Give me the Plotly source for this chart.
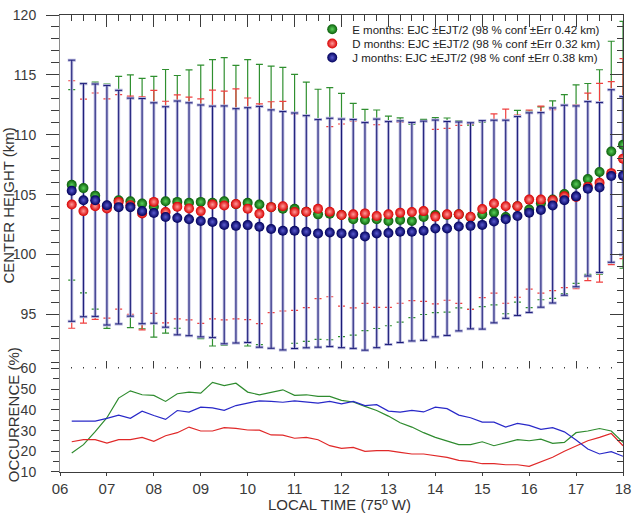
import plotly.graph_objects as go

# ---------------- data ----------------
hours = [6.25, 6.5, 6.75, 7.0, 7.25, 7.5, 7.75, 8.0, 8.25, 8.5, 8.75, 9.0,
         9.25, 9.5, 9.75, 10.0, 10.25, 10.5, 10.75, 11.0, 11.25, 11.5, 11.75, 12.0,
         12.25, 12.5, 12.75, 13.0, 13.25, 13.5, 13.75, 14.0, 14.25, 14.5, 14.75, 15.0,
         15.25, 15.5, 15.75, 16.0, 16.25, 16.5, 16.75, 17.0, 17.25, 17.5, 17.75, 18.0]

E_center = [105.82, 105.55, 104.92, 104.04, 104.54, 104.45, 104.26, 103.99, 104.45, 104.40, 104.32, 104.40,
            104.32, 104.45, 104.20, 104.32, 104.18, 103.96, 103.82, 103.82, 103.58, 103.36, 103.41, 103.30,
            102.95, 102.89, 102.95, 102.81, 102.89, 102.81, 103.14, 103.30, 103.30, 103.36, 103.11, 103.36,
            103.50, 103.13, 104.04, 103.77, 104.28, 104.59, 105.05, 105.88, 106.31, 106.90, 108.61, 109.16]
E_err = [7.95, 8.75, 9.47, 10.20, 10.33, 10.55, 10.45, 10.88, 11.00, 10.55, 11.10, 11.42,
         11.95, 12.00, 11.60, 11.95, 11.70, 11.77, 11.80, 11.22, 10.82, 10.44, 10.52, 10.15,
         9.68, 9.23, 9.12, 8.75, 8.52, 8.07, 8.14, 8.14, 8.10, 7.80, 7.69, 7.70,
         7.70, 8.07, 8.00, 8.20, 8.05, 8.24, 8.30, 8.29, 7.97, 8.53, 9.20, 10.30]

D_center = [104.18, 103.63, 104.04, 103.85, 104.40, 104.12, 103.44, 104.40, 103.55, 103.99, 103.85, 103.63,
            104.18, 104.10, 104.23, 103.82, 103.41, 103.96, 104.04, 103.55, 103.58, 103.82, 103.58, 103.30,
            103.36, 103.44, 103.22, 103.36, 103.50, 103.55, 103.63, 103.17, 103.36, 103.36, 103.16, 103.80,
            104.26, 104.04, 104.04, 104.59, 104.59, 104.54, 104.86, 104.81, 105.65, 106.00, 106.80, 108.01]
D_err = [10.33, 9.35, 9.45, 9.15, 8.95, 9.10, 9.72, 9.30, 9.25, 9.35, 9.30, 9.37,
         9.55, 9.55, 9.60, 9.25, 9.17, 8.80, 8.75, 8.20, 8.00, 7.50, 7.10, 7.60,
         7.80, 7.52, 7.62, 7.77, 7.56, 7.40, 7.53, 7.28, 7.17, 7.43, 7.74, 7.39,
         7.48, 8.10, 7.60, 7.48, 7.80, 7.55, 7.61, 7.66, 7.83, 8.30, 7.64, 8.35]

J_center = [105.33, 104.54, 104.54, 104.12, 103.96, 103.96, 103.63, 103.47, 103.14, 103.06, 102.95, 102.81,
            102.73, 102.48, 102.40, 102.46, 102.32, 102.13, 101.99, 101.99, 101.91, 101.77, 101.85, 101.77,
            101.72, 101.52, 101.77, 101.80, 101.91, 101.91, 101.99, 102.18, 102.18, 102.35, 102.40, 102.48,
            102.76, 102.95, 103.22, 103.50, 103.73, 104.10, 104.54, 104.86, 105.49, 105.60, 106.56, 106.59]
J_err = [10.90, 9.73, 9.70, 10.00, 9.75, 9.10, 9.40, 9.20, 9.20, 9.76, 9.72, 9.68,
         9.66, 9.93, 9.78, 9.80, 10.05, 9.95, 9.95, 9.83, 9.69, 9.50, 9.53, 9.54,
         9.55, 9.50, 9.54, 9.30, 9.25, 9.12, 9.15, 9.05, 8.93, 8.72, 8.60, 8.70,
         8.46, 8.27, 8.30, 8.33, 8.12, 8.14, 7.93, 7.55, 7.28, 7.09, 7.20, 6.60]

E_occ = [19.2, 23.2, 29.5, 36.2, 45.7, 49.2, 47.3, 47.0, 44.1, 47.8, 48.6, 48.1,
         53.3, 51.7, 52.9, 48.6, 47.3, 48.6, 49.7, 47.0, 47.3, 46.5, 46.5, 44.6,
         43.8, 41.7, 39.7, 37.0, 33.8, 31.7, 29.0, 26.7, 25.1, 23.2, 23.2, 24.6,
         22.7, 24.3, 25.6, 25.1, 25.9, 23.8, 24.3, 29.0, 29.8, 31.0, 29.8, 24.3]
D_occ = [24.6, 25.6, 25.6, 24.0, 25.6, 25.6, 26.7, 24.8, 27.5, 29.0, 31.7, 29.8,
         29.8, 31.4, 31.1, 30.3, 30.2, 27.9, 27.8, 26.3, 26.7, 25.6, 22.7, 21.4,
         21.9, 20.0, 20.3, 20.3, 19.5, 18.7, 18.7, 17.9, 17.1, 15.6, 15.1, 14.0,
         14.0, 13.5, 13.5, 12.7, 14.8, 17.1, 20.0, 22.7, 25.1, 26.7, 28.6, 22.7]
J_occ = [34.6, 34.6, 34.6, 35.9, 37.5, 35.9, 39.4, 37.3, 35.4, 39.7, 38.9, 41.3,
         41.0, 39.8, 42.1, 43.3, 44.4, 44.1, 43.7, 44.4, 43.8, 43.3, 44.1, 42.9,
         44.1, 42.1, 42.5, 39.4, 38.9, 39.8, 39.0, 41.3, 40.6, 37.5, 36.2, 34.1,
         34.1, 31.7, 33.5, 32.5, 30.6, 31.4, 29.4, 25.5, 21.1, 18.7, 19.8, 17.6]

names = ["E months: EJC \u00b1EJT/2 (98 % conf \u00b1Err 0.42 km)",
         "D months: EJC \u00b1EJT/2 (98 % conf \u00b1Err 0.32 km)",
         "J months: EJC \u00b1EJT/2 (98 % conf \u00b1Err 0.38 km)"]

hour_ticks = [6, 7, 8, 9, 10, 11, 12, 13, 14, 15, 16, 17, 18]
hour_labels = ["06", "07", "08", "09", "10", "11", "12", "13", "14", "15", "16", "17", "18"]
height_ticks = [95, 100, 105, 110, 115, 120]
occ_ticks = [10, 20, 30, 40, 50, 60]

# ---------------- figure ----------------
fig = go.Figure()
clear = "rgba(0,0,0,0)"

def err_trace(center, err, color, thick, capw):
    return go.Scatter(x=hours, y=center, mode="markers",
                      marker=dict(size=1, color=clear),
                      error_y=dict(type="data", array=err, visible=True, color=color,
                                   thickness=thick, width=capw),
                      showlegend=False, hoverinfo="skip", xaxis="x", yaxis="y")

fig.add_trace(err_trace(E_center, E_err, "#2f8f2f", 1.2, 3.5))
fig.add_trace(err_trace(D_center, D_err, "#f04040", 1.2, 3.5))
fig.add_trace(err_trace(J_center, J_err, "#b8b8dc", 3.0, 4))
fig.add_trace(err_trace(J_center, J_err, "#1a1a78", 1.0, 3.5))

marker_styles = [("#0a5e0a", "#5ad05a"), ("#d80000", "#ff9a9a"), ("#00005a", "#5a5ad0")]
centers = [E_center, D_center, J_center]
legends = ["legend", "legend2", "legend3"]
for c, (edge, mid), nm, lg in zip(centers, marker_styles, names, legends):
    fig.add_trace(go.Scatter(x=hours, y=c, mode="markers", name=nm, legend=lg,
                             marker=dict(size=10, color=edge, line=dict(width=0),
                                         gradient=dict(type="radial", color=mid)),
                             xaxis="x", yaxis="y"))

line_colors = ["#2e8b2e", "#e02828", "#2828c8"]
for occ, col in zip([E_occ, D_occ, J_occ], line_colors):
    fig.add_trace(go.Scatter(x=hours, y=occ, mode="lines", line=dict(color=col, width=1.2),
                             showlegend=False, hoverinfo="skip", xaxis="x2", yaxis="y2"))

# dummy empty traces to make overlay axes exist
fig.add_trace(go.Scatter(x=[], y=[], xaxis="x3", yaxis="y", showlegend=False))
fig.add_trace(go.Scatter(x=[], y=[], xaxis="x", yaxis="y3", showlegend=False))
fig.add_trace(go.Scatter(x=[], y=[], xaxis="x2", yaxis="y4", showlegend=False))

tickfont_y = dict(family="Arial, Liberation Sans, sans-serif", size=14, color="#3a3a3a")
tickfont_x = dict(family="Arial, Liberation Sans, sans-serif", size=15, color="#3a3a3a")
axc = "#3c3c3c"

top_lo = 0.2157
bot_hi = 0.2265

fig.update_layout(
    width=638, height=515, autosize=False,
    margin=dict(l=60, r=7, t=7, b=43),
    paper_bgcolor="white", plot_bgcolor="white",
    xaxis=dict(domain=[0, 1], range=[6, 18], anchor="y", side="bottom",
               showline=True, linecolor=axc, linewidth=1, mirror="ticks",
               tickmode="array", tickvals=hour_ticks, ticks="inside", ticklen=12,
               tickcolor=axc, tickwidth=1,
               minor=dict(ticks="inside", ticklen=6, dtick=0.25, tick0=6, tickcolor=axc),
               showticklabels=False, showgrid=False, zeroline=False),
    xaxis3=dict(overlaying="x", range=[6, 18], anchor="y", side="bottom",
                showline=False, tickmode="array", tickvals=hour_ticks, ticks="outside",
                ticklen=13, tickcolor=axc,
                minor=dict(ticks="outside", ticklen=6, dtick=0.25, tick0=6, tickcolor=axc),
                showticklabels=False, showgrid=False, zeroline=False),
    yaxis=dict(domain=[top_lo, 1], range=[90.08, 120], anchor="x",
               showline=True, linecolor="#8a8a8a", linewidth=1,
               tickmode="array", tickvals=height_ticks, ticks="outside", ticklen=13,
               tickcolor=axc, ticklabelstandoff=7,
               minor=dict(ticks="outside", ticklen=8, dtick=1, tick0=90, tickcolor=axc),
               tickfont=tickfont_y, showgrid=False, zeroline=False),
    yaxis3=dict(overlaying="y", side="right", anchor="x", range=[90.08, 120],
                showline=True, linecolor=axc, tickmode="array", tickvals=height_ticks,
                ticks="inside", ticklen=13, tickcolor=axc,
                minor=dict(ticks="inside", ticklen=6, dtick=1, tick0=90, tickcolor=axc),
                showticklabels=False, showgrid=False, zeroline=False),
    xaxis2=dict(domain=[0, 1], range=[6, 18], anchor="y2", side="bottom",
                showline=True, linecolor=axc, linewidth=1,
                tickmode="array", tickvals=hour_ticks, ticktext=hour_labels,
                ticks="outside", ticklen=3, tickcolor=axc, ticklabelstandoff=0,
                ticklabeloverflow="allow",
                tickfont=tickfont_x, showgrid=False, zeroline=False),
    yaxis2=dict(domain=[0, bot_hi], range=[10, 60], anchor="x2",
                showline=True, linecolor="#8a8a8a", linewidth=1,
                tickmode="array", tickvals=occ_ticks, ticks="outside", ticklen=8,
                tickcolor=axc, ticklabelstandoff=12,
                minor=dict(ticks="outside", ticklen=6, dtick=5, tick0=10, tickcolor=axc),
                tickfont=tickfont_y, showgrid=False, zeroline=False),
    yaxis4=dict(overlaying="y2", side="right", anchor="x2", range=[10, 60],
                showline=True, linecolor=axc, tickmode="array", tickvals=occ_ticks,
                ticks="inside", ticklen=6, tickcolor=axc,
                minor=dict(ticks="inside", ticklen=6, dtick=5, tick0=10, tickcolor=axc),
                showticklabels=False, showgrid=False, zeroline=False),
    font=dict(family="Arial, Liberation Sans, sans-serif", color="#2a2a2a"),
)

legend_font = dict(family="Arial, Liberation Sans, sans-serif", size=11.5, color="#222222")
for key, yv in zip(["legend", "legend2", "legend3"], [0.969, 0.9376, 0.9069]):
    fig.update_layout({key: dict(x=0.448, y=yv, xanchor="left", yanchor="middle",
                                 bgcolor=clear, borderwidth=0, font=legend_font,
                                 itemwidth=30)})

title_font = dict(family="Arial, Liberation Sans, sans-serif", size=15, color="#333333")
fig.add_annotation(text="CENTER HEIGHT (km)", xref="paper", yref="paper",
                   x=-0.092, y=0.5834, xanchor="center", yanchor="middle",
                   textangle=-90, showarrow=False, font=title_font)
fig.add_annotation(text="OCCURRENCE (%)", xref="paper", yref="paper",
                   x=-0.083, y=0.1247, xanchor="center", yanchor="middle",
                   textangle=-90, showarrow=False, font=title_font)
fig.add_annotation(text="LOCAL TIME (75\u00ba W)", xref="paper", yref="paper",
                   x=0.4956, y=-0.071, xanchor="center", yanchor="middle",
                   showarrow=False, font=title_font)

fig.write_html("out.html", config={"displayModeBar": False},
               post_script="document.body.style.margin='0px';document.body.style.overflow='hidden';")
